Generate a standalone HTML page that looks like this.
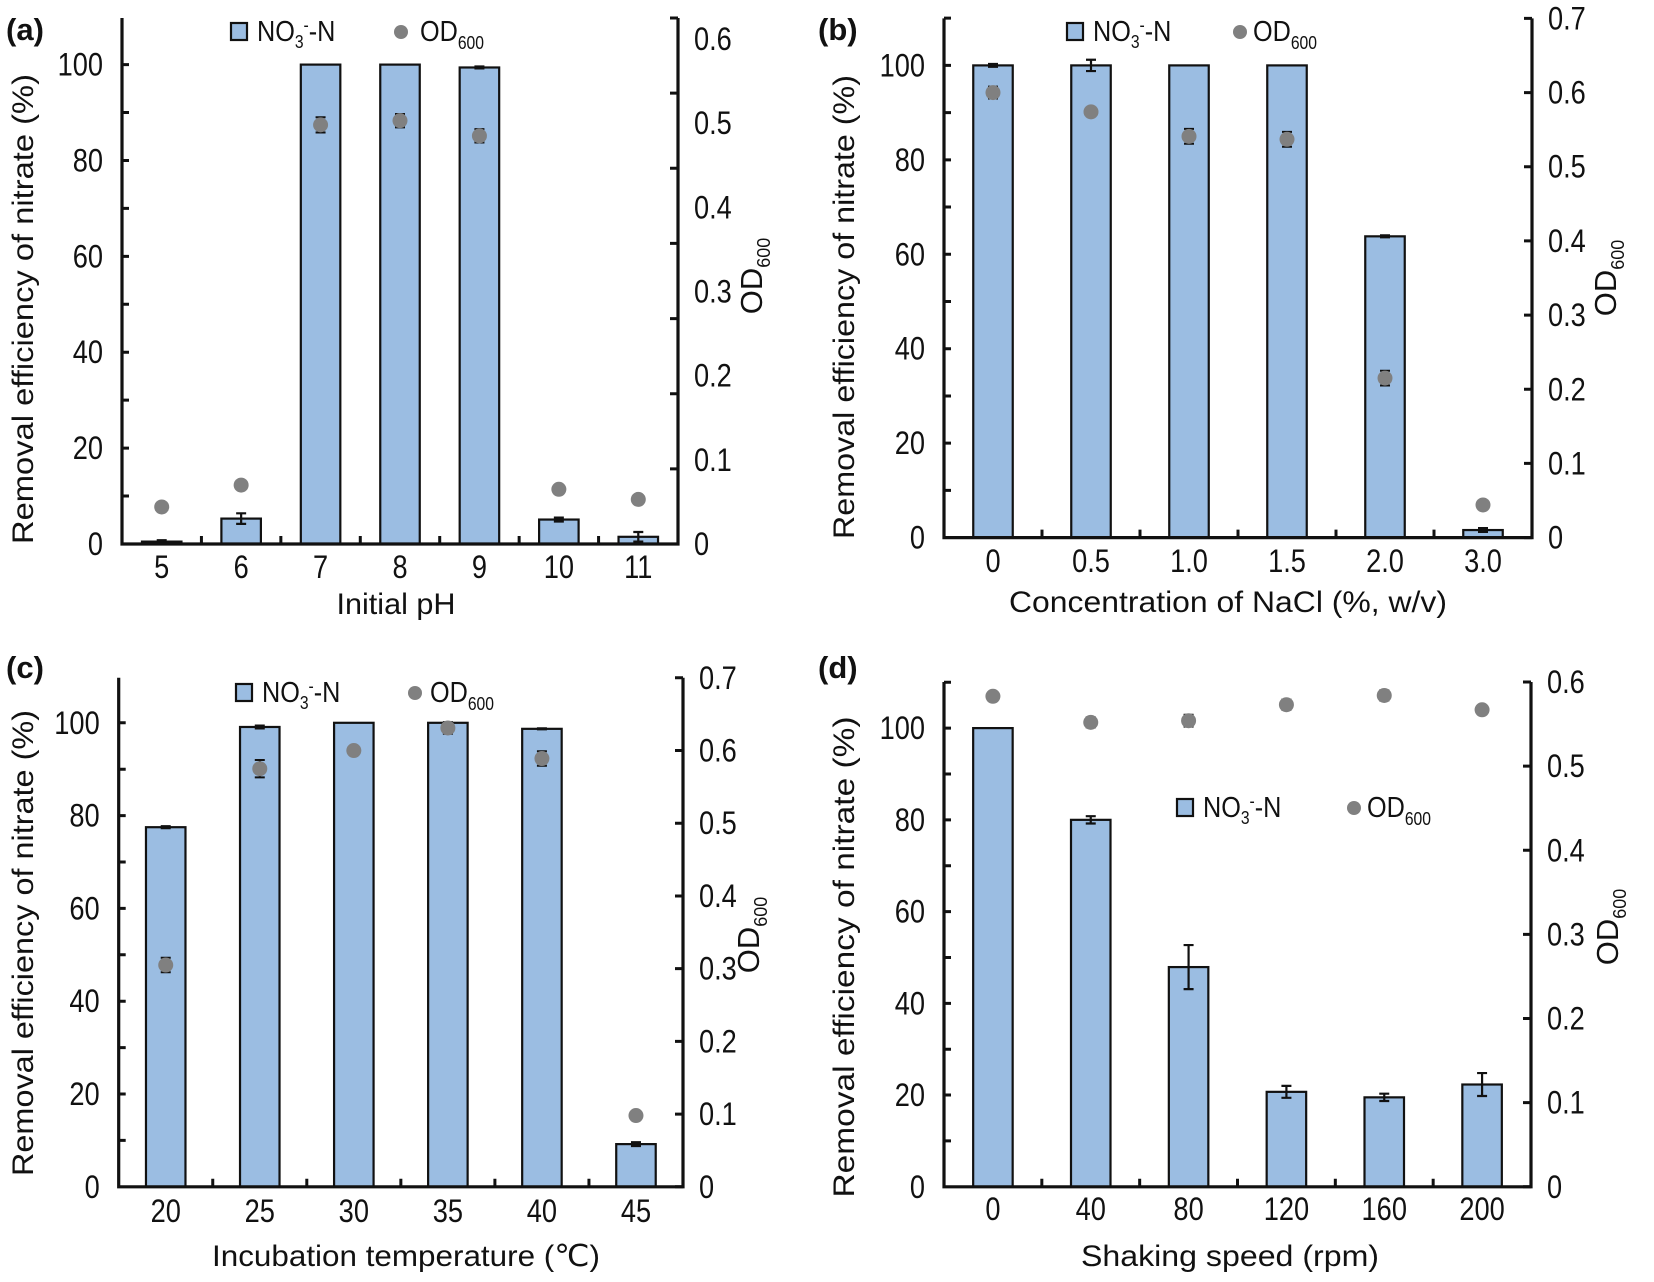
<!DOCTYPE html>
<html><head><meta charset="utf-8"><style>
html,body{margin:0;padding:0;background:#fff;}
svg{display:block;font-family:"Liberation Sans",Arial,sans-serif;}
</style></head><body>
<svg id="fig" width="1654" height="1282" viewBox="0 0 1654 1282" xmlns="http://www.w3.org/2000/svg"></svg>
<script>
// ---- data ----
const aCats = ['5','6','7','8','9','10','11'];
const aNO3 = [0.5, 5.3, 100, 100, 99.4, 5.1, 1.5];
const aNO3Err = [0.3, 1.1, 0, 0, 0.2, 0.4, 1.0];
const aOD = [0.044, 0.070, 0.498, 0.503, 0.485, 0.065, 0.053];
const aODErr = [0, 0, 0.009, 0.008, 0.008, 0, 0];

const bCats = ['0','0.5','1.0','1.5','2.0','3.0'];
const bNO3 = [100, 100, 100, 100, 63.8, 1.6];
const bNO3Err = [0.3, 1.2, 0, 0, 0.2, 0.4];
const bOD = [0.600, 0.574, 0.541, 0.537, 0.215, 0.044];
const bODErr = [0.008, 0, 0.01, 0.01, 0.01, 0];

const cCats = ['20','25','30','35','40','45'];
const cNO3 = [77.5, 99.1, 100, 100, 98.7, 9.2];
const cNO3Err = [0.2, 0.3, 0, 0, 0.1, 0.4];
const cOD = [0.305, 0.575, 0.600, 0.631, 0.589, 0.098];
const cODErr = [0.01, 0.012, 0, 0.008, 0.01, 0];

const dCats = ['0','40','80','120','160','200'];
const dNO3 = [100, 80.0, 47.9, 20.7, 19.5, 22.3];
const dNO3Err = [0, 0.8, 4.8, 1.3, 0.8, 2.5];
const dOD = [0.583, 0.552, 0.554, 0.573, 0.584, 0.567];
const dODErr = [0.005, 0.006, 0.007, 0.006, 0.006, 0.005];

const leftTicks = [0,20,40,60,80,100];
const rightTicksA = ['0','0.1','0.2','0.3','0.4','0.5','0.6'];
const rightTicksB = ['0','0.1','0.2','0.3','0.4','0.5','0.6','0.7'];
const rightTicksD = ['0','0.1','0.2','0.3','0.4','0.5','0.6'];

const NS = 'http://www.w3.org/2000/svg';
const svg = document.getElementById('fig');
function mk(tag, attrs, parent){const e=document.createElementNS(NS,tag);for(const k in attrs)e.setAttribute(k,attrs[k]);(parent||svg).appendChild(e);return e;}
function condense(t, f){ try{ const w=t.getComputedTextLength(); if(w>0){t.setAttribute('textLength', (w*f).toFixed(1)); t.setAttribute('lengthAdjust','spacingAndGlyphs');} }catch(e){} }

function panel(cfg){
  const g = mk('g',{});
  
  
  const n = cfg.cats.length, band = (cfg.R-cfg.L)/n;
  const ppu = (cfg.base-cfg.y100)/100;
  const y = v => cfg.base - v*ppu;
  const y2 = v => cfg.base - v*(cfg.base-cfg.top)/cfg.y2max;
  const xc = i => cfg.L + band*(i+0.5);
  const bw = 39.5;
  cfg.no3.forEach((v,i)=>{
    const r = mk('rect',{x:xc(i)-bw/2,y:y(v),width:bw,height:cfg.base-y(v),fill:'#9bbde2',stroke:'#111','stroke-width':2.2},g);
    
    
    const e = cfg.no3Err[i];
    if(e>0){
      const eb = mk('path',{d:`M${xc(i)} ${y(v+e)}V${y(v-e)}M${xc(i)-5} ${y(v+e)}H${xc(i)+5}M${xc(i)-5} ${y(v-e)}H${xc(i)+5}`,stroke:'#111','stroke-width':2.2,fill:'none'},g);
      
      
    }
  });
  cfg.od.forEach((v,i)=>{
    const e = cfg.odErr[i];
    if(e>0){
      const eb = mk('path',{d:`M${xc(i)} ${y2(v+e)}V${y2(v-e)}M${xc(i)-5} ${y2(v+e)}H${xc(i)+5}M${xc(i)-5} ${y2(v-e)}H${xc(i)+5}`,stroke:'#111','stroke-width':2,fill:'none'},g);
      
      
    }
    const c = mk('circle',{cx:xc(i),cy:y2(v),r:7.5,fill:'#808080'},g);
    
    
  });
  const ax = mk('path',{d:`M${cfg.L} ${cfg.top}V${cfg.base}H${cfg.R}V${cfg.top}`,stroke:'#111','stroke-width':3.2,fill:'none'},g);
  
  
  let d='';
  for(let v=10; y(v)>=cfg.top-1; v+=10) d+=`M${cfg.L} ${y(v)}h7`;
  for(let i=1;i<n;i++) d+=`M${cfg.L+band*i} ${cfg.base}v-8`;
  if(cfg.evenRight){ for(let k=1;k<=7;k++) d+=`M${cfg.R} ${cfg.base-(cfg.base-cfg.top)*k/7}h-8`; }
  else cfg.rTicks.forEach(t=>{ d+=`M${cfg.R} ${y2(parseFloat(t))}h-8`; });
  const tk = mk('path',{d,stroke:'#111','stroke-width':3,fill:'none'},g);
  
  
  leftTicks.forEach(v=>{
    const t = mk('text',{x:cfg.L-19,y:y(v)+11,'text-anchor':'end','font-size':32,fill:'#111'},g);
    t.textContent = v;
    
    
    condense(t,0.85);
  });
  cfg.rTicks.forEach(s=>{
    const t = mk('text',{x:cfg.R+16,y:y2(parseFloat(s))+11,'font-size':32,fill:'#111'},g);
    t.textContent = s;
    
    
    condense(t,0.85);
  });
  cfg.cats.forEach((s,i)=>{
    const t = mk('text',{x:xc(i),y:cfg.xLabY+1,'text-anchor':'middle','font-size':32,fill:'#111'},g);
    t.textContent = s;
    
    
    condense(t,0.85);
  });
  const xt = mk('text',{x:cfg.xTitleX,y:cfg.xTitleY+1,'text-anchor':'middle','font-size':30,fill:'#111',textLength:cfg.xTitleLen,lengthAdjust:'spacingAndGlyphs'},g);
  xt.textContent = cfg.xTitle;
  
  
  const yt = mk('text',{transform:`translate(${cfg.yTitleX},${cfg.yTitleY}) rotate(-90)`,'text-anchor':'middle','font-size':30,fill:'#111',textLength:cfg.yTitleLen,lengthAdjust:'spacingAndGlyphs'},g);
  yt.textContent = 'Removal efficiency of nitrate  (%)';
  
  
  const rt = mk('text',{transform:`translate(${cfg.y2TitleX},${cfg.y2TitleY}) rotate(-90)`,'text-anchor':'middle','font-size':31,fill:'#111'},g);
  rt.innerHTML = 'OD<tspan font-size="18" dy="8">600</tspan>';
  
  
  const pl = mk('text',{x:cfg.plX,y:cfg.plY,'font-size':31,'font-weight':'bold',fill:'#111'},g);
  pl.textContent = '('+cfg.id+')';
  
  
  const lg = mk('g',{},g);
  
  
  const [sx,sy,dx,tx2] = cfg.leg;
  mk('rect',{x:sx,y:sy,width:16,height:17,fill:'#9bbde2',stroke:'#111','stroke-width':2.2},lg);
  const l1 = mk('text',{x:sx+26,y:sy+18,'font-size':29,fill:'#111'},lg);
  l1.innerHTML = 'NO<tspan font-size="18" dy="7">3</tspan><tspan font-size="18" dy="-17">-</tspan><tspan dy="10">-N</tspan>';
  
  
  mk('circle',{cx:dx,cy:sy+9,r:7,fill:'#808080'},lg);
  const l2 = mk('text',{x:tx2,y:sy+18,'font-size':29,fill:'#111'},lg);
  l2.innerHTML = 'OD<tspan font-size="18" dy="8">600</tspan>';
  
  
  condense(l1,0.87); condense(l2,0.87);
}

panel({id:'a',cats:aCats,no3:aNO3,no3Err:aNO3Err,od:aOD,odErr:aODErr,L:122,R:678,base:544,y100:64.6,top:18,y2max:0.625,evenRight:true,rTicks:rightTicksA,
  xLabY:577,xTitle:'Initial pH',xTitleX:396,xTitleY:613,xTitleLen:119,yTitleX:33,yTitleY:309,yTitleLen:470,y2TitleX:762,y2TitleY:276,plX:6,plY:40,leg:[231,23,401,420]});
panel({id:'b',cats:bCats,no3:bNO3,no3Err:bNO3Err,od:bOD,odErr:bODErr,L:944,R:1532,base:537.6,y100:65.4,top:18.4,y2max:0.7,evenRight:false,rTicks:rightTicksB,
  xLabY:571,xTitle:'Concentration of NaCl (%, w/v)',xTitleX:1228,xTitleY:611,xTitleLen:438,yTitleX:854,yTitleY:307,yTitleLen:464,y2TitleX:1616,y2TitleY:278,plX:818,plY:40,leg:[1067,23,1240,1253]});
panel({id:'c',cats:cCats,no3:cNO3,no3Err:cNO3Err,od:cOD,odErr:cODErr,L:118.7,R:683,base:1186.8,y100:722.8,top:677.8,y2max:0.7,evenRight:false,rTicks:rightTicksB,
  xLabY:1221,xTitle:'Incubation temperature (\u2103)',xTitleX:406,xTitleY:1265,xTitleLen:388,yTitleX:33,yTitleY:943,yTitleLen:466,y2TitleX:759,y2TitleY:935,plX:6,plY:678,leg:[236,684,415,430]});
panel({id:'d',cats:dCats,no3:dNO3,no3Err:dNO3Err,od:dOD,odErr:dODErr,L:944,R:1531,base:1186.8,y100:728.1,top:682,y2max:0.6,evenRight:false,rTicks:rightTicksD,
  xLabY:1219,xTitle:'Shaking speed (rpm)',xTitleX:1230,xTitleY:1265,xTitleLen:298,yTitleX:854,yTitleY:957,yTitleLen:481,y2TitleX:1618,y2TitleY:927,plX:818,plY:678,leg:[1177,799,1354,1367]});
</script>
</body></html>
